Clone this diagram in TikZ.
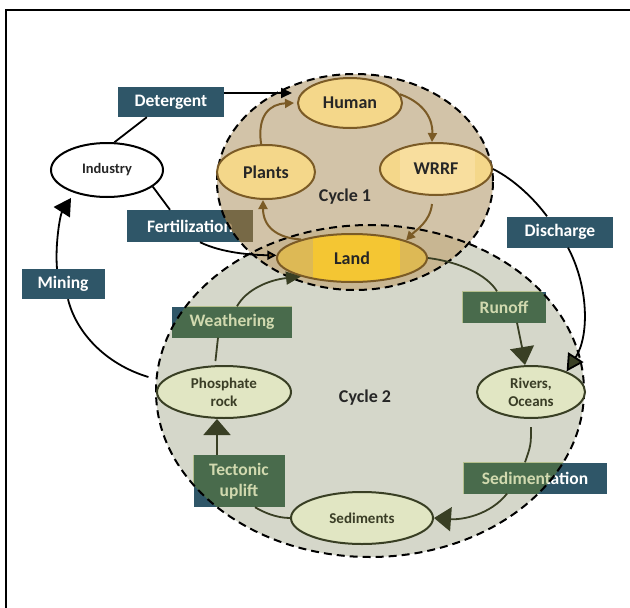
\documentclass[tikz,border=0pt]{standalone}
\usepackage{fontspec}
\setmainfont{Carlito}
\usetikzlibrary{arrows.meta,shapes.geometric}
\definecolor{boxblue}{HTML}{2F5668}
\definecolor{cyconefill}{HTML}{D2C3A8}
\definecolor{cycover}{HTML}{C8B692}
\definecolor{cyctwofill}{HTML}{D5D7CA}
\definecolor{ovgreen}{RGB}{124,148,26}
\definecolor{ovtan}{RGB}{144,112,59}
\definecolor{goldfill}{HTML}{F4D78A}
\definecolor{goldlight}{HTML}{F8DE9E}
\definecolor{landfill}{HTML}{DDB955}
\definecolor{landin}{HTML}{F4C633}
\definecolor{brownline}{HTML}{7B5B26}
\definecolor{olivedark}{HTML}{393F24}
\definecolor{palegreen}{HTML}{E1E6C3}
\definecolor{olivetext}{HTML}{3A3D26}
\begin{document}
\begin{tikzpicture}[x=1pt,y=-1pt,
  box/.style={rectangle, fill=boxblue, text=white, inner sep=0pt, align=center,
    font=\fontsize{17.5}{21}\selectfont\bfseries},
  goldell/.style={ellipse, draw=brownline, line width=2pt, fill=goldfill, inner sep=0pt,
    font=\fontsize{18}{20}\selectfont\bfseries, text=black!85},
  greenell/.style={ellipse, draw=olivedark, line width=2pt, fill=palegreen, inner sep=0pt,
    align=center, font=\fontsize{15}{18}\selectfont\bfseries, text=olivetext},
  cyclabel/.style={font=\fontsize{18}{20}\selectfont\bfseries, text=black!85},
  cycborder/.style={draw=black, line width=2pt, dash pattern=on 8pt off 5pt},
  blackcon/.style={draw=black, line width=1.8pt},
  browncon/.style={draw=brownline, line width=2pt, -{Triangle[length=9pt,width=9pt]}},
  olivecon/.style={draw=olivedark, line width=1.8pt},
]
\useasboundingbox (0,0) rectangle (630,608);
\fill[white] (0,0) rectangle (630,608);
\draw[line width=2pt] (630,10) -- (6,10) -- (6,608);

% big cycle areas
\fill[cyctwofill] (370,391) ellipse [x radius=214, y radius=166];
\fill[cyconefill] (355,182) ellipse [x radius=138, y radius=108];
\begin{scope}
  \clip (370,391) ellipse [x radius=214, y radius=166];
  \fill[cycover] (355,182) ellipse [x radius=138, y radius=108];
\end{scope}

% process boxes
\node[box, minimum width=106pt, minimum height=30pt] (det) at (171,102) {Detergent};
\node[box, minimum width=126pt, minimum height=32pt] (fer) at (190,226) {Fertilization};
\node[box, minimum width=83pt, minimum height=30pt] (min) at (63,284) {Mining};
\node[box, minimum width=106pt, minimum height=31pt] (dis) at (560,232) {Discharge};
\node[box, minimum width=83pt, minimum height=31pt] (run) at (504,307) {Runoff};
\node[box, minimum width=120pt, minimum height=31pt] (wea) at (232,322) {Weathering};
\node[box, minimum width=91pt, minimum height=52pt] (tec) at (239,481) {Tectonic\\uplift};
\node[box, minimum width=143pt, minimum height=31pt] (sed) at (535,478) {Sedimentation};

% tint of the boxes lying inside the cycles
\begin{scope}
  \clip (370,391) ellipse [x radius=214, y radius=166];
  \fill[ovgreen, fill opacity=.35] (run.south west) rectangle (run.north east);
  \fill[ovgreen, fill opacity=.35] (wea.south west) rectangle (wea.north east);
  \fill[ovgreen, fill opacity=.35] (tec.south west) rectangle (tec.north east);
  \fill[ovgreen, fill opacity=.35] (sed.south west) rectangle (sed.north east);
\end{scope}
\begin{scope}
  \clip (355,182) ellipse [x radius=138, y radius=108];
  \fill[ovtan, fill opacity=.75] (fer.south west) rectangle (fer.north east);
\end{scope}

% dashed cycle borders
\draw[cycborder] (370,391) ellipse [x radius=214, y radius=166];
\draw[cycborder] (355,182) ellipse [x radius=138, y radius=108];

% cycle labels
\node[cyclabel] (c1) at (345,197) {Cycle 1};
\node[cyclabel] (c2) at (365,398) {Cycle 2};

% ellipse nodes
\node[ellipse, draw=black, line width=2pt, fill=white, inner sep=0pt,
  minimum width=112pt, minimum height=54pt, font=\fontsize{14.5}{16}\selectfont\bfseries,
  text=black!85] (ind) at (107,170) {Industry};
\node[goldell, minimum width=98pt, minimum height=54pt] (pla) at (266,172) {Plants};
\node[goldell, minimum width=104pt, minimum height=50pt] (hum) at (350,103) {Human};
\node[goldell, minimum width=112pt, minimum height=52pt,
  path picture={\fill[goldlight] ([xshift=-36pt,yshift=-30pt]path picture bounding box.center)
    rectangle ([xshift=39pt,yshift=30pt]path picture bounding box.center);}] (wrr) at (436,169) {WRRF};
\node[goldell, fill=landfill, minimum width=150pt, minimum height=48pt,
  path picture={\fill[landin] ([xshift=-39pt,yshift=-30pt]path picture bounding box.center)
    rectangle ([xshift=48pt,yshift=30pt]path picture bounding box.center);}] (lan) at (352,258) {Land};
\node[greenell, minimum width=108pt, minimum height=52pt] (riv) at (531,392) {Rivers,\\Oceans};
\node[greenell, minimum width=142pt, minimum height=52pt] (sedi) at (362,518) {Sediments};
\node[greenell, minimum width=134pt, minimum height=52pt] (pho) at (224,392) {Phosphate\\rock};

% outer (black) connectors
\draw[blackcon] (ind.75) -- ([xshift=29pt]det.south west);
\draw[blackcon, -{Triangle[length=11pt,width=10pt]}] ([yshift=9pt]det.east) -- ([xshift=-5pt,yshift=10pt]hum.west);
\draw[blackcon] (ind.-20) -- ([xshift=-20pt]fer.north);
\draw[blackcon, -{Triangle[length=9pt,width=9pt,fill=brownline]}] ([xshift=10pt]fer.south)
  .. controls (222,253) and (252,255) .. (lan.178);
\draw[blackcon, shorten <=14pt] (pho.170) .. controls (105,364) and (76,332) .. ([xshift=5pt]min.south);
\draw[blackcon, -{Triangle[length=17pt,width=19pt]}, shorten >=6pt] ([xshift=-6pt]min.north)
  .. controls (55,245) and (60,215) .. (ind.215);
\draw[blackcon] (wrr.east) .. controls (515,180) and (535,200) .. ([xshift=-13pt]dis.north);
\draw[blackcon, -{Triangle[length=17pt,width=18pt,fill=olivedark]}] ([xshift=8pt]dis.south)
  .. controls (588,285) and (590,335) .. (riv.30);

% cycle 1 (brown) connectors
\draw[browncon] (pla.100) .. controls (257,115) and (270,104) .. ([xshift=-3pt]hum.west);
\draw[browncon] (hum.10) .. controls (425,103) and (433,120) .. ([xshift=-4pt]wrr.north);
\draw[browncon] ([xshift=-4pt,yshift=-8pt]wrr.south) .. controls (430,222) and (416,230) .. (lan.18);
\draw[browncon] (lan.160) .. controls (276,238) and (263,226) .. ([xshift=-3pt]pla.south);

% cycle 2 (olive) connectors
\draw[olivecon] (lan.east) .. controls (460,262) and (487,275) .. ([xshift=-7pt]run.north);
\draw[olivecon, -{Triangle[length=18pt,width=24pt]}] ([xshift=13pt]run.south)
  .. controls (520,335) .. ([xshift=-6pt]riv.north);
\draw[olivecon, shorten <=8pt] (riv.south) .. controls (531,445) .. ([xshift=-10pt]sed.north);
\draw[olivecon, -{Triangle[length=17pt,width=24pt]}] ([xshift=-28pt]sed.south)
  .. controls (490,515) and (462,520) .. (sedi.east);
\draw[olivecon] (sedi.west) .. controls (276,518) and (263,512) .. ([xshift=16pt]tec.south);
\draw[olivecon, -{Triangle[length=16pt,width=27pt]}] ([xshift=-22pt]tec.north) -- ([xshift=-7pt]pho.south);
\draw[olivecon, shorten <=4pt] ([xshift=-9pt]pho.north) -- ([xshift=-14pt]wea.south);
\draw[olivecon, -{Triangle[length=15pt,width=13pt]}] ([xshift=5pt]wea.north)
  .. controls (246,290) and (268,280) .. (lan.200);
\end{tikzpicture}
\end{document}
